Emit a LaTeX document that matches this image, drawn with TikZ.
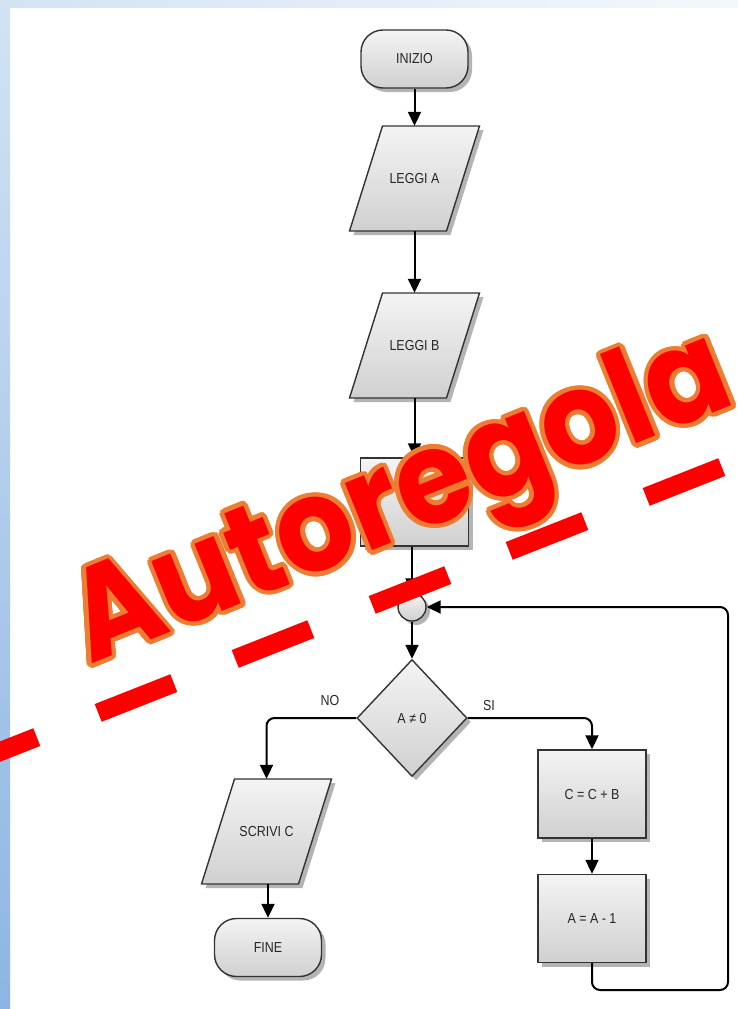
\documentclass[tikz,border=0pt]{standalone}
\usepackage{fontspec}
\setmainfont{Liberation Sans}
\newfontfamily\lab[FakeStretch=0.86]{Liberation Sans}
\newfontfamily\wmfont[FakeStretch=0.93]{Poppins}
\usetikzlibrary{shapes.geometric,shapes.misc,shadows,arrows.meta,calc}
\definecolor{bandtop}{HTML}{D3E3F4}
\definecolor{bandbot}{HTML}{8DB5E3}
\definecolor{shapetop}{HTML}{F4F4F4}
\definecolor{shapebot}{HTML}{D0D0D0}
\definecolor{edgec}{HTML}{333333}
\definecolor{shad}{HTML}{B4B4B4}
\definecolor{wmred}{HTML}{FF0000}
\definecolor{wmorange}{HTML}{EE7D31}
\tikzset{
  lblfont/.style={font=\lab\fontsize{14.5}{16}\selectfont, text=black!85},
  box/.style={draw=edgec, line width=1.4pt, top color=shapetop, bottom color=shapebot,
    drop shadow={shadow xshift=4pt, shadow yshift=-4pt, fill=shad, opacity=1},
    lblfont, inner sep=0pt},
  proc/.style={box, rectangle, minimum width=108pt, minimum height=88pt},
  term/.style={box, rectangle, rounded corners=22pt, minimum width=107pt, minimum height=58pt},
  dec/.style={box, diamond, minimum width=110pt, minimum height=117pt},
  joinc/.style={box, circle, minimum size=28pt},
  iotext/.style={rectangle, minimum width=97pt, minimum height=105pt, inner sep=0pt, lblfont},
  lbl/.style={lblfont, inner sep=0pt},
  arr/.style={-{Triangle[length=14pt,width=13pt]}, line width=2pt, black},
  wm/.style={anchor=base west, rotate=22, inner sep=0pt, font=\wmfont\bfseries\fontsize{130}{130}\selectfont},
}
\newcommand\flowio[4]{%
  \begin{scope}[shift={(#2,#3)}]
    \fill[shad] (-28,-48.5) -- (69,-48.5) -- (36,56.5) -- (-61,56.5) -- cycle;
    \shade[draw=edgec, line width=1.4pt, top color=shapetop, bottom color=shapebot]
      (-32,-52.5) -- (65,-52.5) -- (32,52.5) -- (-65,52.5) -- cycle;
  \end{scope}
  \node[iotext] (#1) at (#2,#3) {#4};
}
\begin{document}
\begin{tikzpicture}[x=1pt,y=-1pt]
\useasboundingbox (0,0) rectangle (738,1009);
\fill[white] (0,0) rectangle (738,1009);
\shade[left color=bandtop, right color=bandtop!25] (0,0) rectangle (738,7);
\shade[top color=bandtop, bottom color=bandbot] (0,0) rectangle (10,1009);

% flowchart
\node[term] (start) at (414.5,59) {INIZIO};
\flowio{ra}{414.5}{178.5}{LEGGI A}
\flowio{rb}{414.5}{345.5}{LEGGI B}
\node[proc] (c0) at (414.5,502) {C = 0};
\node[joinc] (jn) at (412,607) {};
\node[dec] (dc) at (412,718) {A ≠ 0};
\node[proc] (s1) at (592,794) {C = C + B};
\node[proc] (s2) at (592,918.5) {A = A - 1};
\flowio{wc}{266.5}{831.5}{SCRIVI C}
\node[term] (fine) at (268,947.5) {FINE};
\node[lbl] (no) at (330,700) {NO};
\node[lbl] (si) at (489,705) {SI};
\coordinate (loopc) at (728,990);

\draw[arr] (start.south) -- (ra.north);
\draw[arr] (ra.south) -- (rb.north);
\draw[arr] (rb.south) -- (c0.north);
\draw[arr] (c0.south -| jn.north) -- (jn.north);
\draw[arr] (jn.south) -- (dc.north);
\draw[arr, rounded corners=8pt] (dc.west) -| (wc.north);
\draw[arr, rounded corners=8pt] (dc.east) -| (s1.north);
\draw[arr] (s1.south) -- (s2.north);
\draw[arr] (wc.south -| fine.north) -- (fine.north);
\draw[arr, rounded corners=8pt] (s2.south) |- (loopc) |- (jn.east);

% watermark
\foreach \k in {-1,...,4}
  \draw[wmred, line width=19pt] ({136+137*\k-37.8},{698-54*\k+14.9}) -- ({136+137*\k+37.8},{698-54*\k-14.9});
\coordinate (wmpos) at (90,665);
\foreach \a in {0,20,...,340}
  \node[wm, text=wmorange] at ($(wmpos)+(\a:4.5)$) {Autoregola};
\node[wm, text=wmred] (wmtext) at (wmpos) {Autoregola};
\end{tikzpicture}
\end{document}
